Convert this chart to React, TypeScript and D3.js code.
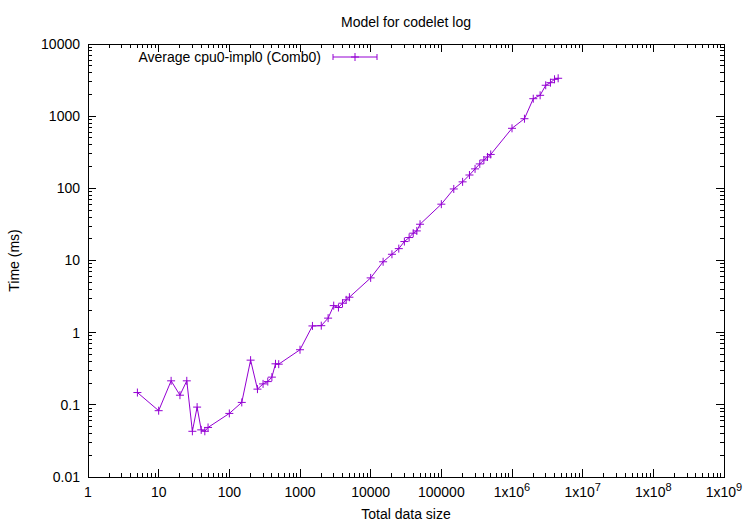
import React from "react";
import * as d3 from "d3";

const sizes = [
  5, 10, 15, 20, 25, 30, 35, 40, 45, 50,
  100, 150, 200, 250, 300, 350, 400, 450, 500,
  1000, 1500, 2000, 2500, 3000, 3500, 4000, 4500, 5000,
  10000, 15000, 20000, 25000, 30000, 35000, 40000, 45000, 50000,
  100000, 150000, 200000, 250000, 300000, 350000, 400000, 450000, 500000,
  1000000, 1500000, 2000000, 2500000, 3000000, 3500000, 4000000, 4500000,
];
const times = [
  0.148, 0.083, 0.215, 0.136, 0.215, 0.043, 0.093, 0.045, 0.043, 0.0486,
  0.076, 0.108, 0.416, 0.165, 0.195, 0.21, 0.242, 0.37, 0.366,
  0.58, 1.24, 1.25, 1.59, 2.37, 2.23, 2.56, 2.85, 3.1,
  5.74, 9.6, 12.2, 14.6, 18.3, 20.8, 23.9, 25.7, 31.8,
  60.3, 98, 123, 153, 186, 218, 247, 272, 295,
  679, 922, 1746, 1945, 2680, 2911, 3243, 3350,
];

const xMajor = [1, 10, 100, 1000, 10000, 100000, 1e6, 1e7, 1e8, 1e9];
const xLabelBase = ["1", "10", "100", "1000", "10000", "100000", "1x10", "1x10", "1x10", "1x10"];
const xLabelSup = ["", "", "", "", "", "", "6", "7", "8", "9"];
const yMajor = [0.01, 0.1, 1, 10, 100, 1000, 10000];
const yLabels = ["0.01", "0.1", "1", "10", "100", "1000", "10000"];

const title = "Model for codelet log";
const xTitle = "Total data size";
const yTitle = "Time (ms)";
const seriesName = "Average cpu0-impl0 (Comb0)";

const COLOR = "#9400d3";
const FONT = "'Liberation Sans', Arial, sans-serif";

export default function App() {
  const L = 88, R = 724, T = 44, B = 477;
  const x = d3.scaleLog().domain([1, 1e9]).range([L, R]);
  const y = d3.scaleLog().domain([0.01, 10000]).range([B, T]);

  const xMinor: number[] = [];
  for (let i = 0; i < xMajor.length - 1; i++)
    for (let k = 2; k <= 9; k++) xMinor.push(xMajor[i] * k);
  const yMinor: number[] = [];
  for (let i = 0; i < yMajor.length - 1; i++)
    for (let k = 2; k <= 9; k++) yMinor.push(yMajor[i] * k);

  const pts = sizes.map((s, i) => [x(s), y(times[i])] as [number, number]);
  const line = d3.line()(pts) || "";
  const MJ = 8, MN = 4, P = 4;

  const plus = (cx: number, cy: number, key: string | number) => (
    <path key={key} d={`M${cx - P},${cy}H${cx + P}M${cx},${cy - P}V${cy + P}`} stroke={COLOR} strokeWidth={1} fill="none" />
  );

  return (
    <svg width={750} height={525} style={{ position: "absolute", left: 0, top: 0, background: "#fff" }} fontFamily={FONT}>
      <rect x={0} y={0} width={750} height={525} fill="#fff" />
      <g stroke="#000" strokeWidth={1} shapeRendering="crispEdges">
        {xMajor.map((v, i) => (
          <g key={"xm" + i}>
            <line x1={x(v)} x2={x(v)} y1={B} y2={B - MJ} />
            <line x1={x(v)} x2={x(v)} y1={T} y2={T + MJ} />
          </g>
        ))}
        {xMinor.map((v, i) => (
          <g key={"xn" + i}>
            <line x1={x(v)} x2={x(v)} y1={B} y2={B - MN} />
            <line x1={x(v)} x2={x(v)} y1={T} y2={T + MN} />
          </g>
        ))}
        {yMajor.map((v, i) => (
          <g key={"ym" + i}>
            <line x1={L} x2={L + MJ} y1={y(v)} y2={y(v)} />
            <line x1={R} x2={R - MJ} y1={y(v)} y2={y(v)} />
          </g>
        ))}
        {yMinor.map((v, i) => (
          <g key={"yn" + i}>
            <line x1={L} x2={L + MN} y1={y(v)} y2={y(v)} />
            <line x1={R} x2={R - MN} y1={y(v)} y2={y(v)} />
          </g>
        ))}
        <rect x={L} y={T} width={R - L} height={B - T} fill="none" />
      </g>
      <g fontSize={14} fill="#000">
        {yMajor.map((v, i) => (
          <text key={"yl" + i} x={L - 8} y={y(v)} dy="0.35em" textAnchor="end">{yLabels[i]}</text>
        ))}
        {xMajor.map((v, i) => (
          <text key={"xl" + i} x={x(v)} y={B + 20} textAnchor="middle">
            {xLabelBase[i]}
            {xLabelSup[i] ? <tspan fontSize={11} dy={-6}>{xLabelSup[i]}</tspan> : null}
          </text>
        ))}
        <text x={(L + R) / 2} y={27} textAnchor="middle">{title}</text>
        <text x={(L + R) / 2} y={519} textAnchor="middle">{xTitle}</text>
        <text transform={`translate(19,${(T + B) / 2}) rotate(-90)`} textAnchor="middle">{yTitle}</text>
        <text x={321} y={57} dy="0.35em" textAnchor="end">{seriesName}</text>
      </g>
      <g>
        <path d={`M333,57H377M333,54V60M377,54V60`} stroke={COLOR} strokeWidth={1} fill="none" />
        {plus(355, 57, "leg")}
      </g>
      <path d={line} fill="none" stroke={COLOR} strokeWidth={1} />
      {pts.map((p, i) => plus(p[0], p[1], i))}
    </svg>
  );
}
